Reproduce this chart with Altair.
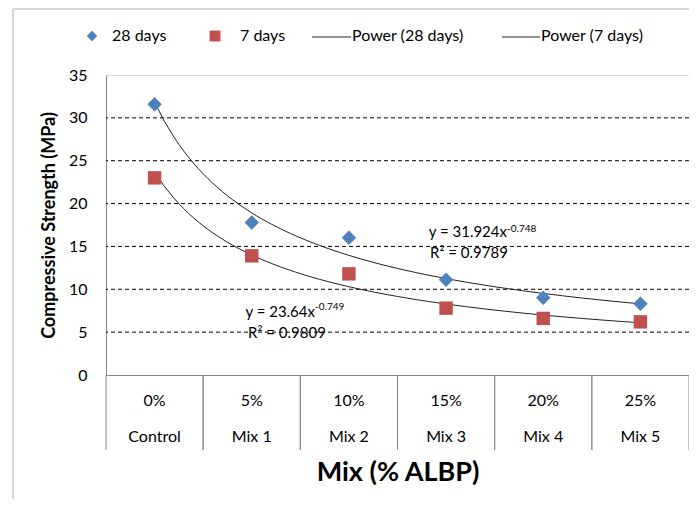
import altair as alt
import pandas as pd

# ---------------- data ----------------
idx = [1, 2, 3, 4, 5, 6]
pct_labels = ["0%", "5%", "10%", "15%", "20%", "25%"]
mix_labels = ["Control", "Mix 1", "Mix 2", "Mix 3", "Mix 4", "Mix 5"]
series_names = ["28 days", "7 days"]
strength_28 = [31.6, 17.8, 16.0, 11.1, 9.0, 8.3]
strength_7 = [23.0, 13.9, 11.8, 7.8, 6.6, 6.2]
trend_names = ["Power (28 days)", "Power (7 days)"]
y_ticks = [0, 5, 10, 15, 20, 25, 30, 35]
grid_values = [5, 10, 15, 20, 25, 30]
eq_28 = ["y = 31.924x", "-0.748", "R² = 0.9789"]
eq_7 = ["y = 23.64x", "-0.749", "R² = 0.9809"]

points = pd.DataFrame({
    "idx": idx * 2,
    "series": [series_names[0]] * len(idx) + [series_names[1]] * len(idx),
    "value": strength_28 + strength_7,
})
cats = pd.DataFrame({"idx": idx, "pct": pct_labels, "mix": mix_labels})
grid = pd.DataFrame({"value": grid_values})

# ---------------- style ----------------
W, H = 583, 300
FONT = "Lato"
BLUE = "#4f81bd"
RED = "#c0504d"

xscale = alt.Scale(domain=[0.5, 6.5], nice=False, zero=False)
yscale = alt.Scale(domain=[0, 35], nice=False, zero=True)

x_axis = alt.Axis(labels=False, ticks=False, grid=False, domainColor="#8a8a8a",
                  title="Mix (% ALBP)", titleFont=FONT, titleFontSize=27,
                  titleFontWeight="bold", titleColor="#000", titlePadding=84)
y_axis = alt.Axis(values=y_ticks, ticks=False, grid=False, domainColor="#8a8a8a",
                  labelFont=FONT, labelFontSize=16, labelColor="#000", labelPadding=19,
                  title="Compressive Strength (MPa)", titleFont=FONT, titleFontSize=18,
                  titleFontWeight="bold", titleColor="#000", titlePadding=10)


def X(field):
    return alt.X(field, scale=xscale, axis=x_axis)


def Y(field):
    return alt.Y(field, scale=yscale, axis=y_axis)


# gridlines
grid_layer = alt.Chart(grid).mark_rule(color="#000", strokeDash=[4, 3], strokeWidth=1).encode(
    y=Y("value:Q")
)

# category separators (extending below the plot like Excel)
sep_left = alt.Chart(cats).transform_calculate(b="datum.idx - 0.5").mark_rule(
    color="#8a8a8a", strokeWidth=1
).encode(x=X("b:Q"), y=alt.value(H), y2=alt.value(H + 75))
sep_right = alt.Chart(cats).transform_calculate(b="datum.idx + 0.5").mark_rule(
    color="#8a8a8a", strokeWidth=1
).encode(x=X("b:Q"), y=alt.value(H), y2=alt.value(H + 75))

# category labels (two rows)
lab_pct = alt.Chart(cats).mark_text(font=FONT, fontSize=16, color="#000", baseline="middle").encode(
    x=X("idx:Q"), y=alt.value(H + 26), text="pct:N"
)
lab_mix = alt.Chart(cats).mark_text(font=FONT, fontSize=16, color="#000", baseline="middle").encode(
    x=X("idx:Q"), y=alt.value(H + 62), text="mix:N"
)

# power trendlines
trend = alt.Chart(points).transform_regression(
    "idx", "value", method="pow", groupby=["series"], extent=[1, 6]
).mark_line(color="#222", strokeWidth=1).encode(
    x=X("idx:Q"), y=Y("value:Q"), detail="series:N"
)

# points
pts = alt.Chart(points).mark_point(filled=True, opacity=1).encode(
    x=X("idx:Q"),
    y=Y("value:Q"),
    shape=alt.Shape("series:N", scale=alt.Scale(domain=series_names, range=["diamond", "square"]), legend=None),
    color=alt.Color("series:N", scale=alt.Scale(domain=series_names, range=[BLUE, RED]), legend=None),
    size=alt.Size("series:N", scale=alt.Scale(domain=series_names, range=[210, 180]), legend=None),
)


def text_layer(t, x, y, size=15, align="left"):
    return alt.Chart(alt.InlineData(values=[{"t": t}])).mark_text(
        font=FONT, fontSize=size, color="#000", align=align, baseline="middle"
    ).encode(x=alt.value(x), y=alt.value(y), text="t:N")


# equations
eq_layers = [
    text_layer(eq_28[0], 401, 156.5, 15, "right"),
    text_layer(eq_28[1], 401, 153.5, 10, "left"),
    text_layer(eq_28[2], 324, 178, 15, "left"),
    text_layer(eq_7[0], 209, 236.5, 15, "right"),
    text_layer(eq_7[1], 209, 231.5, 10, "left"),
    text_layer(eq_7[2], 142, 258, 15, "left"),
]

# manual legend across the top
LY = -39


def legend_symbol(shape, color, x, size):
    return alt.Chart(alt.InlineData(values=[{"s": shape}])).mark_point(
        filled=True, opacity=1, shape=shape, color=color, size=size
    ).encode(x=alt.value(x), y=alt.value(LY))


def legend_line(x1, x2):
    return alt.Chart(alt.InlineData(values=[{"s": 1}])).mark_rule(color="#222", strokeWidth=1).encode(
        x=alt.value(x1), x2=alt.value(x2), y=alt.value(LY + 1)
    )


legend_layers = [
    legend_symbol("diamond", BLUE, -14, 110),
    text_layer(series_names[0], 6, LY, 16),
    legend_symbol("square", RED, 109, 120),
    text_layer(series_names[1], 134, LY, 16),
    legend_line(206, 245),
    text_layer(trend_names[0], 246, LY, 16),
    legend_line(396, 434),
    text_layer(trend_names[1], 435, LY, 16),
]

# outer chart frame (light gray)
frame_left = alt.Chart(alt.InlineData(values=[{"s": 1}])).mark_rule(color="#b0b0b0", strokeWidth=1).encode(
    x=alt.value(-93), y=alt.value(-66), y2=alt.value(440)
)
frame_top = alt.Chart(alt.InlineData(values=[{"s": 1}])).mark_rule(color="#b0b0b0", strokeWidth=1).encode(
    x=alt.value(-93), x2=alt.value(600), y=alt.value(-66)
)

chart = alt.layer(
    frame_left, frame_top, grid_layer, sep_left, sep_right, lab_pct, lab_mix,
    trend, pts, *eq_layers, *legend_layers
).properties(
    width=W, height=H,
    padding={"left": 98, "top": 67, "right": 0, "bottom": 124},
    autosize=alt.AutoSizeParams(type="none"),
).configure_view(stroke="#444", strokeWidth=1).configure(background="white")

chart.save("out.html", embed_options={"renderer": "svg", "actions": False})
